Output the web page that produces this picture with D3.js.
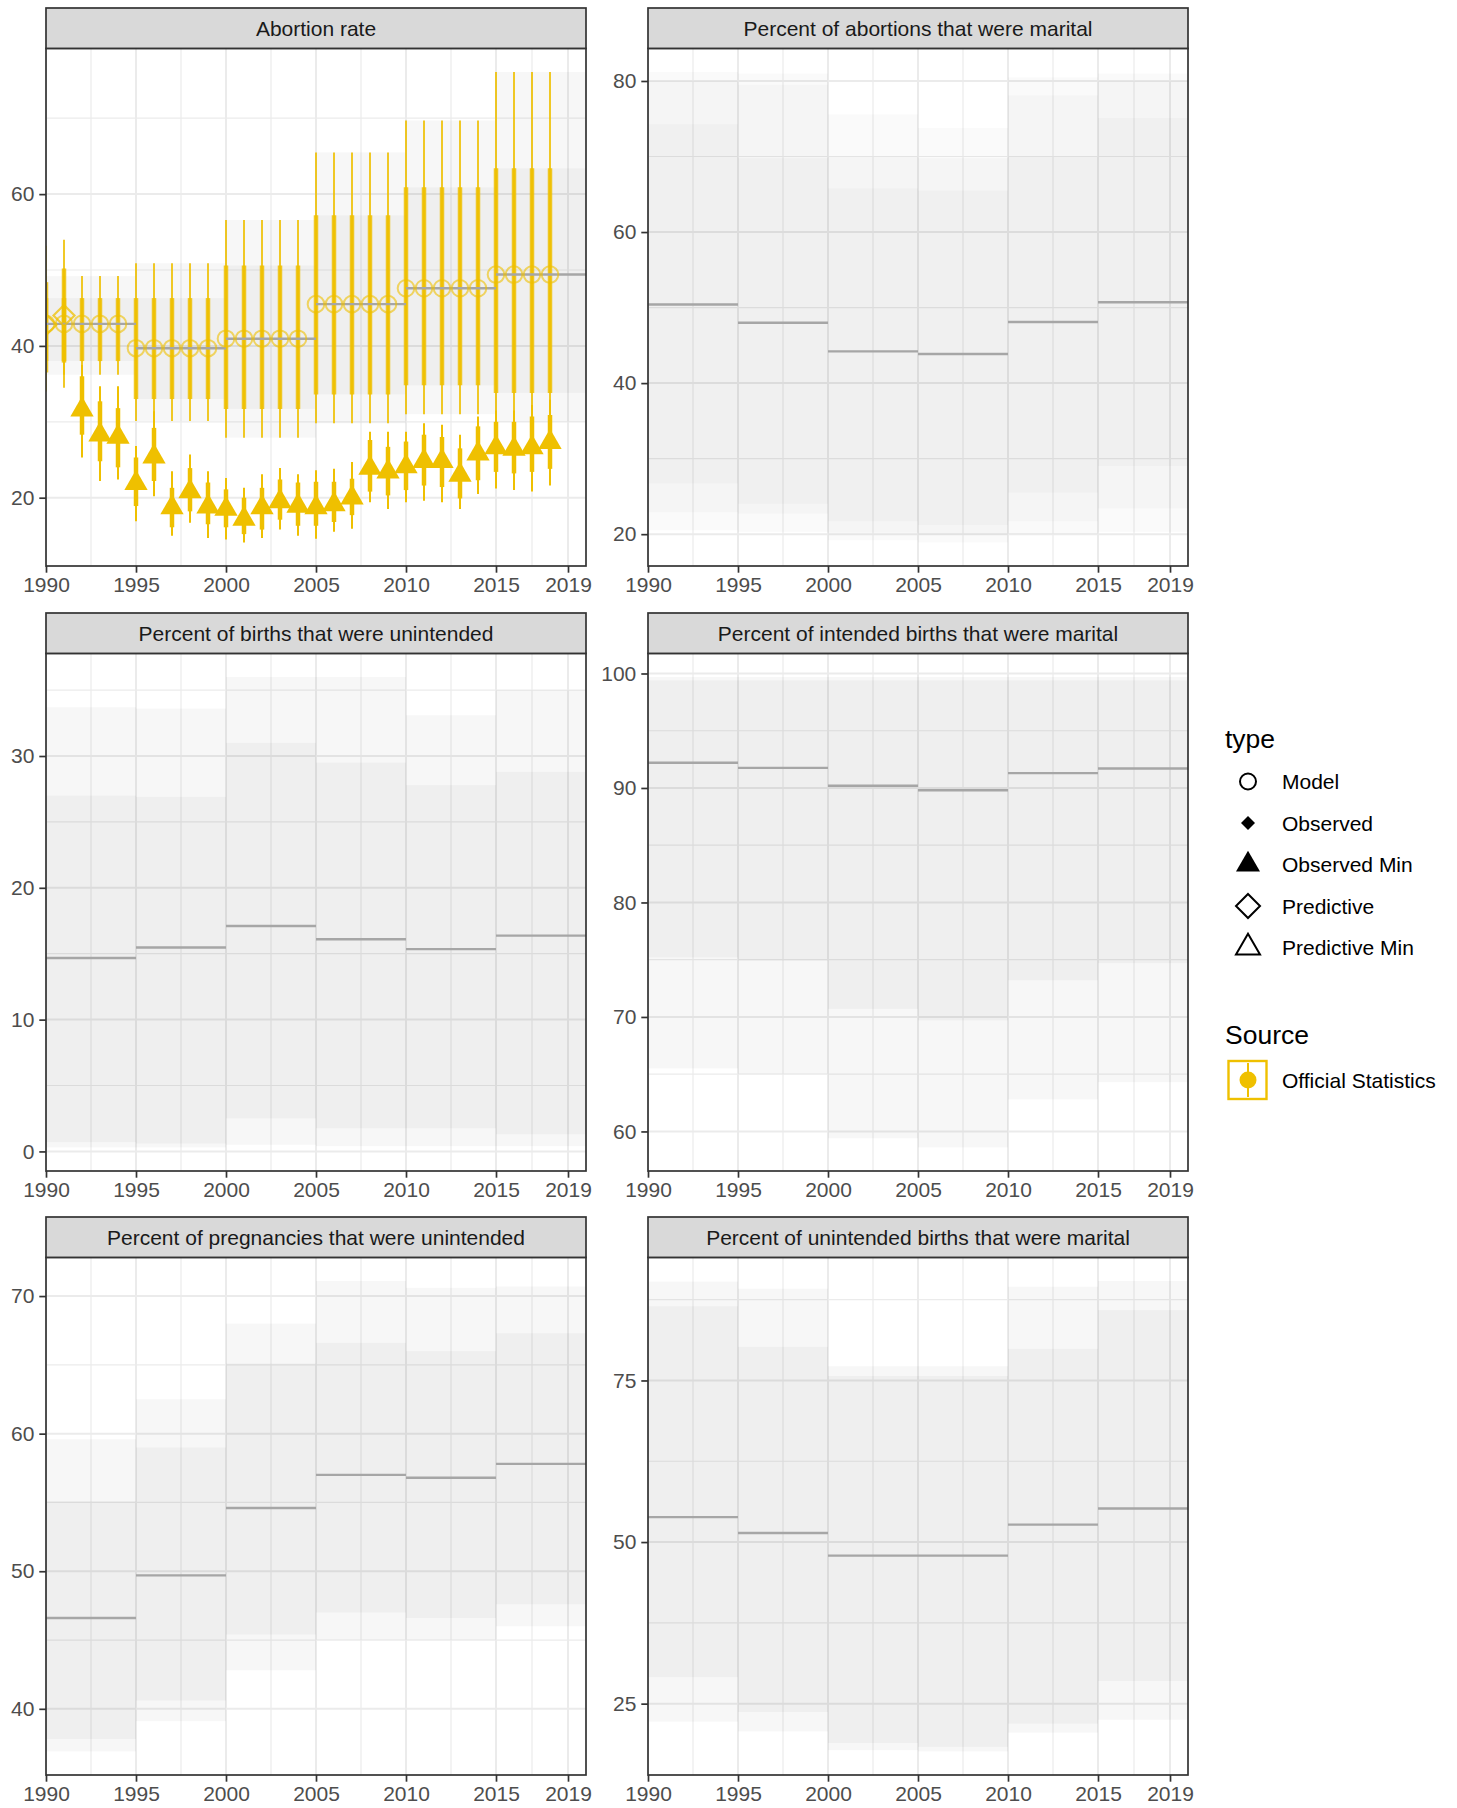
<!DOCTYPE html>
<html><head><meta charset="utf-8">
<script src="https://cdn.jsdelivr.net/npm/d3@7"></script>
<style>
body{margin:0;background:#fff}
svg{display:block}
text{font-family:"Liberation Sans",Arial,Helvetica,sans-serif}
</style>
</head><body>
<svg id="c" width="1457" height="1808"></svg>
<script>
// ---------- shared axis data ----------
const blockStart = [1990, 1995, 2000, 2005, 2010, 2015];
const blockEnd   = [1995, 2000, 2005, 2010, 2015, 2020];
const xTicks = [1990, 1995, 2000, 2005, 2010, 2015, 2019];
const xMinor = [1992.5, 1997.5, 2002.5, 2007.5, 2012.5, 2017];
const xDomain = [1990, 2020];

// ---------- Abortion rate ----------
const arMedian = [42.9, 39.7, 40.95, 45.5, 47.6, 49.4];
const arHi50 = [46.3, 46.3, 50.6, 57.2, 60.9, 63.4];
const arLo50 = [38.0, 33.0, 31.7, 33.6, 34.8, 33.8];
const arHi80 = [49.2, 50.9, 56.6, 65.5, 69.7, 76.1];
const arLo80 = [36.2, 30.1, 27.9, 29.8, 31.0, 30.0];
const modelYears = [1990,1991,1992,1993,1994,1995,1996,1997,1998,1999,2000,2001,2002,2003,2004,
                    2005,2006,2007,2008,2009,2010,2011,2012,2013,2014,2015,2016,2017,2018];
const predYears = [1990, 1991];
const predValue = [42.8, 44.0];
const predThickLo = [36.5, 37.8];
const predThickHi = [48.4, 50.2];
const predThinLo = [34.0, 34.5];
const predThinHi = [53.2, 54.0];
const obsMinYears = [1992,1993,1994,1995,1996,1997,1998,1999,2000,2001,2002,2003,2004,
                     2005,2006,2007,2008,2009,2010,2011,2012,2013,2014,2015,2016,2017,2018];
const obsMinValue = [31.6,28.3,28.0,21.9,25.4,18.7,20.8,18.8,18.5,17.2,18.7,19.5,18.9,
                     18.7,19.1,20.0,23.9,23.4,24.1,24.8,24.8,23.0,25.8,26.6,26.4,26.6,27.3];
const obsMinThickHi = [36.0,32.7,31.8,25.3,29.2,21.3,23.9,22.0,21.1,20.0,21.3,22.4,22.0,
                       22.1,22.1,22.5,27.6,26.7,27.4,28.3,28.0,26.5,29.4,30.0,30.0,30.7,30.9];
const obsMinThickLo = [28.3,24.8,24.0,18.9,22.2,16.1,18.2,16.5,16.1,15.2,15.8,17.1,16.3,
                       16.3,16.8,17.7,20.8,20.3,21.0,21.6,21.4,19.9,22.3,23.4,23.2,23.4,23.8];
const obsMinThinHi = [37.5,34.7,34.7,26.8,31.4,23.5,25.7,23.5,22.6,21.3,23.1,23.9,23.1,
                      23.6,23.8,24.7,28.7,28.7,28.7,29.8,29.6,28.3,30.7,31.5,31.5,32.2,32.9];
const obsMinThinLo = [25.3,22.2,22.4,16.9,20.2,15.0,16.7,14.7,14.5,14.1,14.7,15.8,15.0,
                      14.6,15.5,15.9,19.4,18.5,19.4,19.6,19.4,18.5,20.5,21.2,21.0,20.8,21.6];

// ---------- Percent of abortions that were marital ----------
const pmMedian = [50.4, 48.0, 44.2, 43.85, 48.1, 50.7];
const pmHiA = [74.3, 69.8, 65.8, 65.5, 70.0, 75.1];
const pmLoA = [26.7, 24.0, 21.7, 21.2, 25.5, 29.0];
const pmHiB = [80.0, 79.5, 70.0, 69.8, 78.1, 80.0];
const pmLoB = [22.9, 22.7, 20.2, 19.9, 21.7, 23.4];
const pmHiC = [81.2, 81.0, 75.6, 73.8, 80.5, 81.0];
const pmLoC = [20.5, 20.3, 19.2, 18.9, 20.0, 20.3];

// ---------- Percent of births that were unintended ----------
const buMedian = [14.68, 15.47, 17.1, 16.1, 15.35, 16.37];
const buHiA = [27.0, 26.9, 31.0, 29.5, 27.8, 28.8];
const buLoA = [0.7, 0.6, 2.5, 1.75, 1.75, 1.3];
const buHiB = [33.7, 33.6, 36.0, 36.0, 33.1, 35.0];
const buLoB = [0.3, 0.3, 0.5, 0.4, 0.4, 0.4];

// ---------- Percent of intended births that were marital ----------
const ibMedian = [92.2, 91.76, 90.2, 89.8, 91.3, 91.7];
const ibHiA = [99.4, 99.4, 99.4, 99.4, 99.4, 99.4];
const ibLoA = [75.2, 74.9, 70.7, 69.7, 73.2, 74.7];
const ibHiB = [99.7, 99.7, 99.7, 99.7, 99.7, 99.7];
const ibLoB = [65.5, 65.0, 59.4, 58.6, 62.8, 64.3];

// ---------- Percent of pregnancies that were unintended ----------
const puMedian = [46.6, 49.7, 54.6, 57.0, 56.8, 57.8];
const puHiA = [55.1, 59.0, 65.1, 66.6, 66.0, 67.3];
const puLoA = [37.8, 40.6, 45.4, 47.0, 46.6, 47.6];
const puHiB = [59.6, 62.5, 68.0, 71.1, 70.6, 70.7];
const puLoB = [36.9, 39.1, 42.8, 45.0, 45.0, 46.0];

// ---------- Percent of unintended births that were marital ----------
const umMedian = [53.85, 51.4, 47.9, 47.9, 52.7, 55.2];
const umHiA = [86.5, 80.2, 75.7, 75.7, 79.9, 85.9];
const umLoA = [29.1, 23.7, 18.9, 18.3, 21.9, 28.5];
const umHiB = [90.3, 89.2, 77.2, 77.2, 89.5, 90.4];
const umLoB = [22.2, 20.7, 17.8, 17.6, 20.5, 22.5];

// ---------- legend ----------
const typeLabels = ["Model", "Observed", "Observed Min", "Predictive", "Predictive Min"];
const sourceLabels = ["Official Statistics"];

const panels = [
  {title:"Abortion rate", col:0, row:0, major:[20,40,60], minor:[30,50,70],
   median:arMedian, bands:[[arLo80,arHi80],[arLo50,arHi50]], points:true},
  {title:"Percent of abortions that were marital", col:1, row:0, major:[20,40,60,80], minor:[30,50,70],
   median:pmMedian, bands:[[pmLoC,pmHiC],[pmLoB,pmHiB],[pmLoA,pmHiA]]},
  {title:"Percent of births that were unintended", col:0, row:1, major:[0,10,20,30], minor:[5,15,25,35],
   median:buMedian, bands:[[buLoB,buHiB],[buLoA,buHiA]]},
  {title:"Percent of intended births that were marital", col:1, row:1, major:[60,70,80,90,100], minor:[65,75,85,95],
   median:ibMedian, bands:[[ibLoB,ibHiB],[ibLoA,ibHiA]]},
  {title:"Percent of pregnancies that were unintended", col:0, row:2, major:[40,50,60,70], minor:[45,55,65],
   median:puMedian, bands:[[puLoB,puHiB],[puLoA,puHiA]]},
  {title:"Percent of unintended births that were marital", col:1, row:2, major:[25,50,75], minor:[37.5,62.5,87.5],
   median:umMedian, bands:[[umLoB,umHiB],[umLoA,umHiA]]}
];

// ---------- layout / style ----------
const colLeft = [46, 648], plotW = 540;
const stripTop = [8, 613, 1217], stripH = 40.4, plotH = 517.6;
const YEL = "#EFC000";
const GRID = "#ebebeb", DARK = "#333333";
const FS = 21;

const svg = d3.select("#c");
svg.append("rect").attr("width",1457).attr("height",1808).attr("fill","#fff");

function blockOf(yr){ return blockStart.findIndex((s,i)=> yr>=s && yr<blockEnd[i]); }

panels.forEach((p, pi) => {
  const L = colLeft[p.col], T = stripTop[p.row] + stripH, B = T + plotH, R = L + plotW;
  const x = d3.scaleLinear().domain(xDomain).range([L, R]);
  let vals = [].concat(p.median, ...p.bands.flat());
  if (p.points) vals = vals.concat(obsMinThinLo, obsMinThinHi, predThinLo, predThinHi);
  const [mn, mx] = d3.extent(vals);
  const pad = (mx - mn) * 0.05;
  const y = d3.scaleLinear().domain([mn - pad, mx + pad]).range([B, T]);

  const g = svg.append("g");
  const clipId = "clip" + pi;
  svg.append("clipPath").attr("id", clipId).append("rect")
     .attr("x", L).attr("y", T).attr("width", plotW).attr("height", plotH);
  const pg = g.append("g").attr("clip-path", `url(#${clipId})`);

  // gridlines
  pg.selectAll(".ymin").data(p.minor).join("line")
    .attr("x1", L).attr("x2", R).attr("y1", d=>y(d)).attr("y2", d=>y(d))
    .attr("stroke", GRID).attr("stroke-width", 1.2);
  pg.selectAll(".xmin").data(xMinor).join("line")
    .attr("y1", T).attr("y2", B).attr("x1", d=>x(d)).attr("x2", d=>x(d))
    .attr("stroke", GRID).attr("stroke-width", 1.2);
  pg.selectAll(".ymaj").data(p.major).join("line")
    .attr("x1", L).attr("x2", R).attr("y1", d=>y(d)).attr("y2", d=>y(d))
    .attr("stroke", GRID).attr("stroke-width", 2);
  pg.selectAll(".xmaj").data(xTicks).join("line")
    .attr("y1", T).attr("y2", B).attr("x1", d=>x(d)).attr("x2", d=>x(d))
    .attr("stroke", GRID).attr("stroke-width", 2);

  // bands
  const op = 0.06 / p.bands.length;
  p.bands.forEach(([lo, hi]) => {
    pg.append("g").selectAll("rect").data(blockStart).join("rect")
      .attr("x", (d,i)=>x(d)).attr("width", (d,i)=>x(blockEnd[i]) - x(d))
      .attr("y", (d,i)=>y(hi[i])).attr("height", (d,i)=>y(lo[i]) - y(hi[i]))
      .attr("fill", "#000").attr("fill-opacity", op);
  });

  if (p.points) {
    const mb = pg.append("g");
    mb.selectAll(".mthin").data(modelYears).join("line")
      .attr("x1", d=>x(d)).attr("x2", d=>x(d))
      .attr("y1", d=>y(arLo80[blockOf(d)])).attr("y2", d=>y(arHi80[blockOf(d)]))
      .attr("stroke", YEL).attr("stroke-width", 2).attr("stroke-opacity", 0.85);
    mb.selectAll(".mthick").data(modelYears).join("line")
      .attr("x1", d=>x(d)).attr("x2", d=>x(d))
      .attr("y1", d=>y(arLo50[blockOf(d)])).attr("y2", d=>y(arHi50[blockOf(d)]))
      .attr("stroke", YEL).attr("stroke-width", 4.5).attr("stroke-opacity", 0.85);
    mb.selectAll(".pthin").data(predYears).join("line")
      .attr("x1", d=>x(d)).attr("x2", d=>x(d))
      .attr("y1", (d,i)=>y(predThinLo[i])).attr("y2", (d,i)=>y(predThinHi[i]))
      .attr("stroke", YEL).attr("stroke-width", 2).attr("stroke-opacity", 0.85);
    mb.selectAll(".pthick").data(predYears).join("line")
      .attr("x1", d=>x(d)).attr("x2", d=>x(d))
      .attr("y1", (d,i)=>y(predThickLo[i])).attr("y2", (d,i)=>y(predThickHi[i]))
      .attr("stroke", YEL).attr("stroke-width", 4.5).attr("stroke-opacity", 0.85);
    mb.selectAll(".othin").data(obsMinYears).join("line")
      .attr("x1", d=>x(d)).attr("x2", d=>x(d))
      .attr("y1", (d,i)=>y(obsMinThinLo[i])).attr("y2", (d,i)=>y(obsMinThinHi[i]))
      .attr("stroke", YEL).attr("stroke-width", 2);
    mb.selectAll(".othick").data(obsMinYears).join("line")
      .attr("x1", d=>x(d)).attr("x2", d=>x(d))
      .attr("y1", (d,i)=>y(obsMinThickLo[i])).attr("y2", (d,i)=>y(obsMinThickHi[i]))
      .attr("stroke", YEL).attr("stroke-width", 4.5);
    const tri = d3.symbol().type(d3.symbolTriangle).size(235);
    mb.selectAll(".tri").data(obsMinYears).join("path")
      .attr("d", tri)
      .attr("transform", (d,i)=>`translate(${x(d)},${y(obsMinValue[i])})`)
      .attr("fill", YEL);
  }

  // median segments
  pg.selectAll(".med").data(blockStart).join("line")
    .attr("x1", d=>x(d)).attr("x2", (d,i)=>x(blockEnd[i]))
    .attr("y1", (d,i)=>y(p.median[i])).attr("y2", (d,i)=>y(p.median[i]))
    .attr("stroke", "#a6a6a6").attr("stroke-width", 2.4);

  if (p.points) {
    pg.selectAll(".circ").data(modelYears).join("circle")
      .attr("cx", d=>x(d)).attr("cy", d=>y(arMedian[blockOf(d)])).attr("r", 8.3)
      .attr("fill", "none").attr("stroke", YEL).attr("stroke-width", 2).attr("stroke-opacity", 0.6);
    pg.selectAll(".dia").data(predYears).join("path")
      .attr("d", "M0,-10.5L10.5,0L0,10.5L-10.5,0Z")
      .attr("transform", (d,i)=>`translate(${x(d)},${y(predValue[i])})`)
      .attr("fill", "none").attr("stroke", YEL).attr("stroke-width", 2.2).attr("stroke-opacity", 0.75);
  }

  // panel border
  g.append("rect").attr("x", L).attr("y", T).attr("width", plotW).attr("height", plotH)
    .attr("fill", "none").attr("stroke", DARK).attr("stroke-width", 1.7);
  // strip
  g.append("rect").attr("x", L).attr("y", stripTop[p.row]).attr("width", plotW).attr("height", stripH)
    .attr("fill", "#d9d9d9").attr("stroke", DARK).attr("stroke-width", 1.7);
  g.append("text").attr("x", L + plotW/2).attr("y", stripTop[p.row] + stripH/2).attr("dy", "0.36em")
    .attr("text-anchor", "middle").attr("font-size", FS).attr("fill", "#1a1a1a").text(p.title);

  // axes
  const ya = g.append("g").attr("transform", `translate(${L},0)`)
    .call(d3.axisLeft(y).tickValues(p.major).tickSize(6.7).tickPadding(5));
  const xa = g.append("g").attr("transform", `translate(0,${B})`)
    .call(d3.axisBottom(x).tickValues(xTicks).tickFormat(d3.format("d")).tickSize(6.7).tickPadding(4));
  [ya, xa].forEach(a => {
    a.select(".domain").remove();
    a.attr("font-size", FS).attr("font-family", '"Liberation Sans",Arial,sans-serif');
    a.selectAll(".tick line").attr("stroke", DARK).attr("stroke-width", 1.7);
    a.selectAll(".tick text").attr("fill", "#4d4d4d");
  });
});

// ---------- legend ----------
const lg = svg.append("g");
const LX = 1225, SX = 1248, TX = 1282;
lg.append("text").attr("x", LX).attr("y", 738).attr("dy", "0.36em").attr("font-size", 26.5).attr("fill", "#000").text("type");
const itemY = [781.5, 823, 864.5, 906, 947.5];
const keyDraw = [
  g => g.append("circle").attr("r", 8).attr("fill", "none").attr("stroke", "#000").attr("stroke-width", 2),
  g => g.append("path").attr("d", "M0,-7L7,0L0,7L-7,0Z").attr("fill", "#000"),
  g => g.append("path").attr("d", d3.symbol().type(d3.symbolTriangle).size(250)()).attr("fill", "#000"),
  g => g.append("path").attr("d", "M0,-12L12,0L0,12L-12,0Z").attr("fill", "none").attr("stroke", "#000").attr("stroke-width", 2),
  g => g.append("path").attr("d", d3.symbol().type(d3.symbolTriangle).size(250)()).attr("fill", "none").attr("stroke", "#000").attr("stroke-width", 2)
];
typeLabels.forEach((t, i) => {
  const k = lg.append("g").attr("transform", `translate(${SX},${itemY[i]})`);
  keyDraw[i](k);
  lg.append("text").attr("x", TX).attr("y", itemY[i]).attr("dy", "0.36em").attr("font-size", FS).attr("fill", "#000").text(t);
});
lg.append("text").attr("x", LX).attr("y", 1034).attr("dy", "0.36em").attr("font-size", 26.5).attr("fill", "#000").text("Source");
sourceLabels.forEach((t, i) => {
  const cy = 1080;
  lg.append("rect").attr("x", 1228.5).attr("y", cy - 19).attr("width", 38).attr("height", 38)
    .attr("fill", "#fff").attr("stroke", YEL).attr("stroke-width", 2.4);
  lg.append("line").attr("x1", SX).attr("x2", SX).attr("y1", cy - 17).attr("y2", cy + 17)
    .attr("stroke", YEL).attr("stroke-width", 2);
  lg.append("circle").attr("cx", SX).attr("cy", cy).attr("r", 8.5).attr("fill", YEL);
  lg.append("text").attr("x", TX).attr("y", cy).attr("dy", "0.36em").attr("font-size", FS).attr("fill", "#000").text(t);
});
</script>
</body></html>
